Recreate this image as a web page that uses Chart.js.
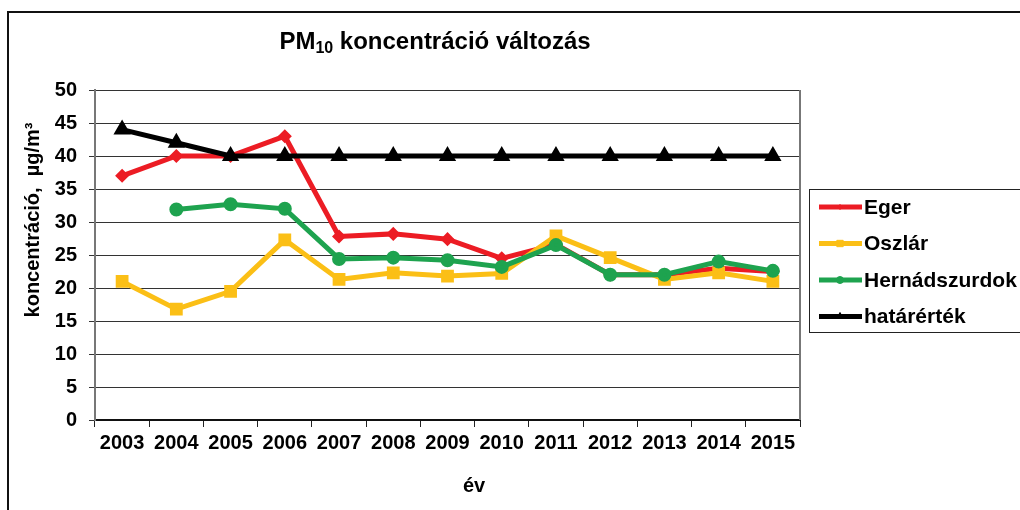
<!DOCTYPE html>
<html>
<head>
<meta charset="utf-8">
<script src="https://cdn.jsdelivr.net/npm/chart.js@4.4.1/dist/chart.umd.min.js"></script>
<style>
  html, body { margin: 0; padding: 0; background: #fff; }
  canvas { display: block; }
</style>
</head>
<body>
<canvas id="chart" width="1020" height="510"></canvas>
<script>
const years = ['2003', '2004', '2005', '2006', '2007', '2008', '2009', '2010', '2011', '2012', '2013', '2014', '2015'];
const eger = [37, 40, 40, 43, 27.8, 28.2, 27.4, 24.5, 26.6, 22, 22, 23, 22.5];
const oszlar = [21, 16.8, 19.5, 27.3, 21.3, 22.3, 21.8, 22.2, 27.9, 24.6, 21.3, 22.3, 21];
const hernadszurdok = [null, 31.9, 32.7, 32, 24.4, 24.6, 24.2, 23.2, 26.5, 22, 22, 24, 22.6];
const hatarertek = [44, 42, 40, 40, 40, 40, 40, 40, 40, 40, 40, 40, 40];
const yTicks = [0, 5, 10, 15, 20, 25, 30, 35, 40, 45, 50];

const SERIES = [
  { label: 'Eger', data: eger, color: '#ec1c24', style: 'rectRot', radius: 3.5, order: 3 },
  { label: 'Oszlár', data: oszlar, color: '#fbbf16', style: 'rect', radius: 5.5, order: 2 },
  { label: 'Hernádszurdok', data: hernadszurdok, color: '#1ea34f', style: 'circle', radius: 4.5, order: 1 },
  { label: 'határérték', data: hatarertek, color: '#000000', style: 'triangle', radius: 5, order: 0 },
];

const FONT = '"Liberation Sans", Arial, sans-serif';

const decorations = {
  id: 'decorations',
  beforeDraw(chart) {
    const ctx = chart.ctx;
    ctx.save();
    ctx.fillStyle = '#fff';
    ctx.fillRect(0, 0, chart.width, chart.height);
    ctx.restore();
  },
  afterDraw(chart) {
    const ctx = chart.ctx;
    const area = chart.chartArea;
    ctx.save();

    // outer frame
    ctx.strokeStyle = '#111';
    ctx.lineWidth = 2;
    ctx.beginPath();
    ctx.moveTo(8, 512);
    ctx.lineTo(8, 12);
    ctx.lineTo(1022, 12);
    ctx.stroke();

    // right border of plot
    ctx.strokeStyle = '#777';
    ctx.lineWidth = 2;
    ctx.beginPath();
    ctx.moveTo(area.right, area.top);
    ctx.lineTo(area.right, area.bottom);
    ctx.stroke();

    // title with subscript
    ctx.fillStyle = '#000';
    ctx.textBaseline = 'alphabetic';
    ctx.textAlign = 'left';
    const big = 'bold 24px ' + FONT;
    const small = 'bold 16px ' + FONT;
    ctx.font = big;
    const w1 = ctx.measureText('PM').width;
    const w3 = ctx.measureText(' koncentráció változás').width;
    ctx.font = small;
    const w2 = ctx.measureText('10').width;
    let x = 435 - (w1 + w2 + w3) / 2;
    const base = 49;
    ctx.font = big;
    ctx.fillText('PM', x, base);
    x += w1;
    ctx.font = small;
    ctx.fillText('10', x, base + 4);
    x += w2;
    ctx.font = big;
    ctx.fillText(' koncentráció változás', x, base);

    // axis titles
    ctx.font = 'bold 20px ' + FONT;
    ctx.textAlign = 'center';
    ctx.textBaseline = 'middle';
    ctx.fillText('év', 474, 486);
    ctx.save();
    ctx.translate(33, 220);
    ctx.rotate(-Math.PI / 2);
    ctx.fillText('koncentráció,  µg/m³', 0, 0);
    ctx.restore();

    // legend
    ctx.strokeStyle = '#222';
    ctx.lineWidth = 1;
    ctx.strokeRect(809.5, 189.5, 214, 143);
    ctx.font = 'bold 21px ' + FONT;
    ctx.textAlign = 'left';
    SERIES.forEach((s, i) => {
      const y = 207 + i * 36.5;
      ctx.strokeStyle = s.color;
      ctx.fillStyle = s.color;
      ctx.lineWidth = 5;
      ctx.beginPath();
      ctx.moveTo(819, y);
      ctx.lineTo(862, y);
      ctx.stroke();
      ctx.lineWidth = 1;
      Chart.helpers.drawPoint(ctx, { pointStyle: s.style, radius: s.radius - 1, rotation: 0, borderWidth: 1 }, 840, y);
      ctx.fillStyle = '#000';
      ctx.fillText(s.label, 864, y + 1);
    });

    ctx.restore();
  },
};

new Chart(document.getElementById('chart'), {
  type: 'line',
  data: {
    labels: years,
    datasets: SERIES.map((s) => ({
      label: s.label,
      data: s.data,
      borderColor: s.color,
      backgroundColor: s.color,
      pointBackgroundColor: s.color,
      pointBorderColor: s.color,
      pointStyle: s.style,
      pointRadius: s.radius,
      borderWidth: 5,
      tension: 0,
      order: s.order,
    })),
  },
  options: {
    responsive: false,
    animation: false,
    layout: { padding: { left: 0, right: 220, top: 90, bottom: 0 } },
    plugins: { legend: { display: false }, tooltip: { enabled: false } },
    scales: {
      x: {
        offset: true,
        grid: { offset: true, drawOnChartArea: false, color: '#222', tickLength: 7, tickWidth: 1 },
        border: { color: '#111', width: 2 },
        ticks: { color: '#000', font: { family: FONT, size: 20, weight: 'bold' }, padding: 4, maxRotation: 0, autoSkip: false },
        afterFit: (scale) => { scale.height = 90; },
      },
      y: {
        min: 0,
        max: 50,
        afterBuildTicks: (scale) => { scale.ticks = yTicks.map((v) => ({ value: v })); },
        grid: { color: '#333', lineWidth: 1, tickLength: 6 },
        border: { color: '#777', width: 2 },
        ticks: { color: '#000', font: { family: FONT, size: 20, weight: 'bold' }, padding: 12 },
        afterFit: (scale) => { scale.width = 95; },
      },
    },
  },
  plugins: [decorations],
});
</script>
</body>
</html>
